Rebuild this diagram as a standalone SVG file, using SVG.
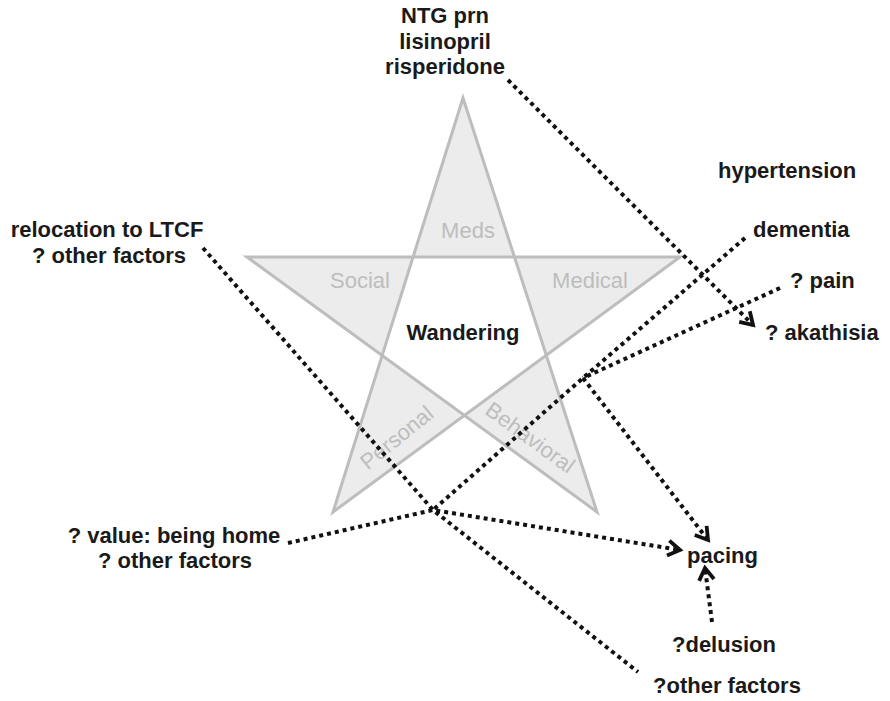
<svg xmlns="http://www.w3.org/2000/svg" width="890" height="701" viewBox="0 0 890 701">
<style>
.lbl{font-family:"Liberation Sans",Arial,sans-serif;font-weight:bold;font-size:22px;fill:#1a1a1a}
.star{font-family:"Liberation Sans",Arial,sans-serif;font-size:22px;fill:#bdbdbd}
.con{fill:none;stroke:#111;stroke-width:4;stroke-dasharray:4 4}
</style>
<defs>
<marker id="arr" markerUnits="userSpaceOnUse" viewBox="-16 -10 20 20" refX="0" refY="0" markerWidth="20" markerHeight="20" orient="auto">
<path d="M-12,-7.5 L0,0 L-12,7.5" fill="none" stroke="#111" stroke-width="3.8" stroke-linejoin="miter"/>
</marker>
</defs>
<rect width="890" height="701" fill="#fff"/>
<g id="star">
<polygon points="463,98 597,512 247,257 680,257 333,512" fill="#ececec" fill-rule="evenodd" stroke="#bdbdbd" stroke-width="3" stroke-linejoin="miter"/>
<text class="star" x="468" y="238" text-anchor="middle">Meds</text>
<text class="star" x="360" y="288" text-anchor="middle">Social</text>
<text class="star" x="590" y="288" text-anchor="middle">Medical</text>
<text class="star" transform="translate(397,438) rotate(-39)" x="0" y="7" text-anchor="middle" font-size="21">Personal</text>
<text class="star" transform="translate(530,438) rotate(36)" x="0" y="7" text-anchor="middle" font-size="21">Behavioral</text>
</g>
<g id="wandering"><text class="lbl" x="463" y="340" text-anchor="middle" font-size="24">Wandering</text></g>
<g id="meds-list">
<text class="lbl" x="445" y="23" text-anchor="middle">NTG prn</text>
<text class="lbl" x="445" y="49" text-anchor="middle">lisinopril</text>
<text class="lbl" x="445" y="74" text-anchor="middle">risperidone</text>
</g>
<g id="hypertension"><text class="lbl" x="718" y="178">hypertension</text></g>
<g id="dementia"><text class="lbl" x="753" y="237">dementia</text></g>
<g id="pain"><text class="lbl" x="790" y="288">? pain</text></g>
<g id="akathisia"><text class="lbl" x="765" y="340">? akathisia</text></g>
<g id="relocation">
<text class="lbl" x="107" y="237" text-anchor="middle">relocation to LTCF</text>
<text class="lbl" x="109" y="263" text-anchor="middle">? other factors</text>
</g>
<g id="value">
<text class="lbl" x="174" y="543" text-anchor="middle">? value: being home</text>
<text class="lbl" x="175" y="568" text-anchor="middle">? other factors</text>
</g>
<g id="pacing"><text class="lbl" x="687" y="563">pacing</text></g>
<g id="delusion"><text class="lbl" x="672" y="652">?delusion</text></g>
<g id="other"><text class="lbl" x="653" y="693">?other factors</text></g>
<g id="connectors">
<path class="con" d="M508,80 L753,325" marker-end="url(#arr)"/>
<path class="con" d="M745,238 L583,378 L433,510"/>
<path class="con" d="M780,288 L583,378"/>
<path class="con" d="M583,378 L708,540" marker-end="url(#arr)"/>
<path class="con" d="M203,248 L433,510 L638,672"/>
<path class="con" d="M288,543 L433,510 L680,550" marker-end="url(#arr)"/>
<path class="con" d="M712,622 L705,568" marker-end="url(#arr)"/>
</g>
</svg>
